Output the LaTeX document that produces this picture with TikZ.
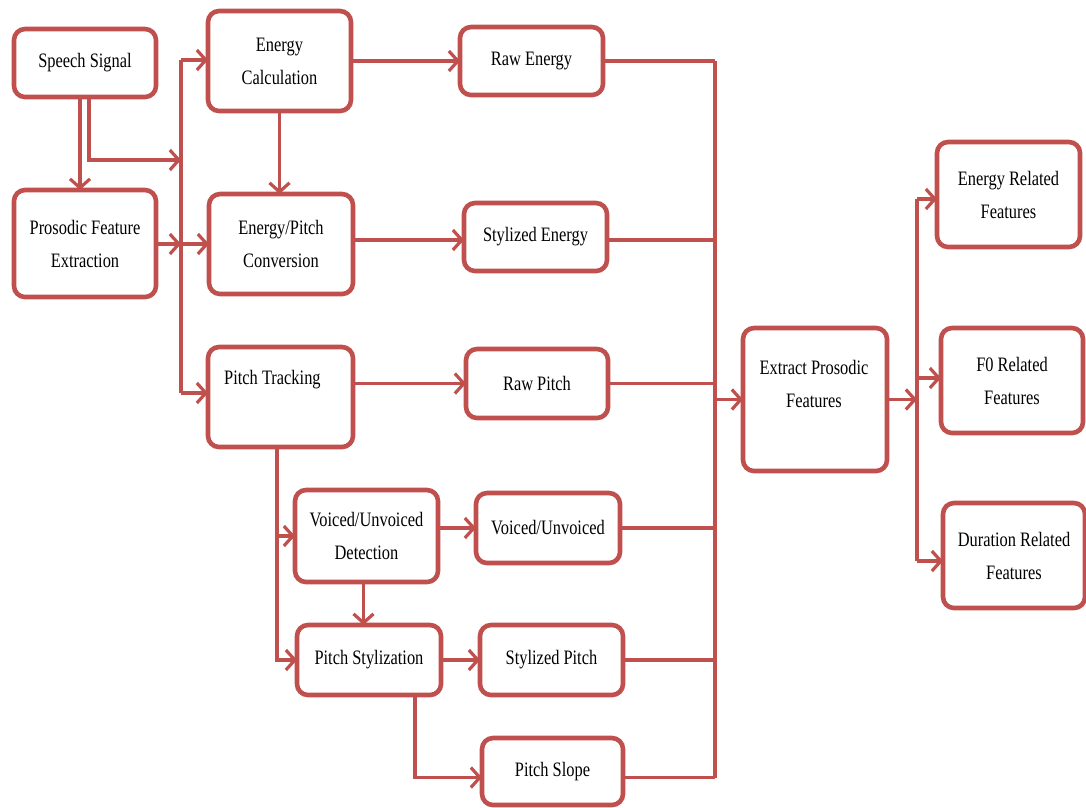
\documentclass[tikz,border=0pt]{standalone}
\usepackage{fontspec}
\setmainfont{Liberation Serif}[FakeStretch=0.8]
\usetikzlibrary{arrows.meta}
\definecolor{bred}{HTML}{C0504D}
\begin{document}
\begin{tikzpicture}[x=1pt,y=-1pt,
  box/.style={draw=bred,line width=4.6pt,rounded corners=11pt,fill=white,align=center,inner sep=0pt,outer sep=0pt,font=\fontsize{20.5}{33}\selectfont},
  line/.style={draw=bred,line width=3.2pt},
  arr/.style={line,-{Straight Barb[length=9pt,width=20pt]}},
  txt/.style={inner sep=0pt,font=\fontsize{20.5}{33}\selectfont,align=center}]
\useasboundingbox (0,0) rectangle (1086,807);
% boxes
\node[box,minimum width=142pt,minimum height=68pt] (sig) at (85,63) {Speech Signal};
\node[box,minimum width=142pt,minimum height=107pt] (pfe) at (85,243.5) {Prosodic Feature\\Extraction};
\node[box,minimum width=143pt,minimum height=100pt] (ec) at (279.5,61) {Energy\\Calculation};
\node[box,minimum width=144pt,minimum height=100pt] (epc) at (281,244) {Energy/Pitch\\Conversion};
\node[box,minimum width=143pt,minimum height=68pt] (re) at (531.5,61) {Raw Energy};
\node[box,minimum width=143pt,minimum height=68pt] (se) at (535.5,237) {Stylized Energy};
\node[box,minimum width=145pt,minimum height=100pt] (pt) at (280.5,397) {};
\node[txt,anchor=west] (ptt) at (224,380) {Pitch Tracking};
\node[box,minimum width=142pt,minimum height=69pt] (rp) at (537,383.5) {Raw Pitch};
\node[box,minimum width=143pt,minimum height=92pt] (vud) at (366.5,536) {Voiced/Unvoiced\\Detection};
\node[box,minimum width=144pt,minimum height=70pt] (vu) at (548,528) {Voiced/Unvoiced};
\node[box,minimum width=144pt,minimum height=70pt] (ps) at (369,660) {Pitch Stylization};
\node[box,minimum width=143pt,minimum height=70pt] (spi) at (551.5,660) {Stylized Pitch};
\node[box,minimum width=141pt,minimum height=67pt] (psl) at (552.5,771.5) {Pitch Slope};
\node[box,minimum width=144pt,minimum height=143pt] (epf) at (815,399.5) {};
\node[txt] (epft) at (814,384) {Extract Prosodic\\Features};
\node[box,minimum width=143pt,minimum height=105pt] (erf) at (1008.5,194.5) {Energy Related\\Features};
\node[box,minimum width=142pt,minimum height=105pt] (f0) at (1012,380.5) {F0 Related\\Features};
\node[box,minimum width=142pt,minimum height=105pt] (drf) at (1014,555.5) {Duration Related\\Features};
% helper coordinates
\coordinate (bt) at (181,60);
\coordinate (bm) at (181,244);
\coordinate (bb) at (181,393);
\coordinate (b1) at (181,160);
\coordinate (pj) at (277,0);
\coordinate (cx) at (715,0);
\coordinate (ox) at (917,0);
% left side
\draw[arr] ([xshift=-5pt]sig.south) -- ([xshift=-5pt]sig.south |- pfe.north);
\draw[arr] ([xshift=4pt]sig.south) |- (b1);
\draw[line] (bt) -- (bb);
\draw[arr] (bt) -- (bt -| ec.west);
\draw[arr] (pfe.east |- bm) -- (bm);
\draw[arr] (bm) -- (bm -| epc.west);
\draw[arr] (bb) -- (bb -| pt.west);
\draw[arr] (ec.south) -- (ec.south |- epc.north);
\draw[arr] (ec.east) -- (ec.east -| re.west);
\draw[arr] ([yshift=4pt]epc.east) -- ([yshift=4pt]epc.east -| se.west);
\draw[arr] (pt.east |- rp) -- (rp.west);
\draw[arr] (pt.south -| pj) |- (ps.west);
\draw[arr] (vud.west -| pj) -- (vud.west);
\draw[arr] (vud.east |- vu) -- (vu.west);
\draw[arr] ([xshift=-3pt]vud.south) -- ([xshift=-3pt]vud.south |- ps.north);
\draw[arr] (ps.east) -- (spi.west);
\draw[arr] ([xshift=46pt]ps.south) |- ([yshift=-6pt]psl.west);
% collector
\draw[line] (re.east) -- (re.east -| cx);
\draw[line] ([yshift=-3pt]se.east) -- ([yshift=-3pt]se.east -| cx);
\draw[line] (rp.east) -- (rp.east -| cx);
\draw[line] (vu.east) -- (vu.east -| cx);
\draw[line] (spi.east) -- (spi.east -| cx);
\draw[line] ([yshift=-6pt]psl.east) -- ([yshift=-6pt]psl.east -| cx);
\draw[line] (re.east -| cx) -- ([yshift=-6pt]psl.east -| cx);
\draw[arr] (epf.west -| cx) -- (epf.west);
% outputs
\draw[arr] (epf.east) -- (epf.east -| ox);
\draw[line] ([yshift=-4.5pt]erf.west -| ox) -- ([yshift=-5.5pt]drf.west -| ox);
\draw[arr] ([yshift=-4.5pt]erf.west -| ox) -- ([yshift=-4.5pt]erf.west);
\draw[arr] ([yshift=2.5pt]f0.west -| ox) -- ([yshift=2.5pt]f0.west);
\draw[arr] ([yshift=-5.5pt]drf.west -| ox) -- ([yshift=-5.5pt]drf.west);
\end{tikzpicture}
\end{document}
